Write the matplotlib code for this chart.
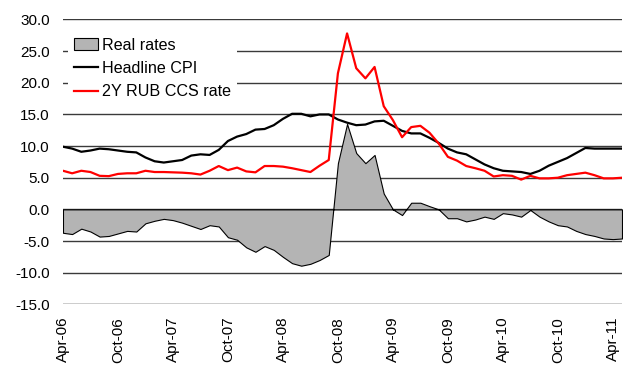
import matplotlib
matplotlib.use("Agg")
import matplotlib.pyplot as plt
from matplotlib.patches import Patch
from matplotlib.lines import Line2D

plt.rcParams["font.family"] = ["Liberation Sans", "DejaVu Sans"]
plt.rcParams["axes.unicode_minus"] = False

# Monthly observations, Apr-06 .. May-11
tick_labels = ["Apr-06", "Oct-06", "Apr-07", "Oct-07", "Apr-08", "Oct-08",
               "Apr-09", "Oct-09", "Apr-10", "Oct-10", "Apr-11"]

headline_cpi = [9.9, 9.6, 9.1, 9.3, 9.6, 9.5, 9.3, 9.1, 9.0, 8.2,
                7.6, 7.4, 7.6, 7.8, 8.5, 8.7, 8.6, 9.4, 10.8, 11.5,
                11.9, 12.6, 12.7, 13.3, 14.3, 15.1, 15.1, 14.7, 15.0, 15.0,
                14.2, 13.7, 13.3, 13.4, 13.9, 14.0, 13.2, 12.4, 12.0, 12.0,
                11.3, 10.5, 9.6, 9.0, 8.7, 7.9, 7.1, 6.5, 6.1, 6.0,
                5.9, 5.6, 6.1, 6.9, 7.5, 8.1, 8.9, 9.7, 9.6, 9.6,
                9.6, 9.6]

ccs_rate = [6.1, 5.7, 6.1, 5.9, 5.3, 5.25, 5.6, 5.7, 5.7, 6.1,
            5.9, 5.9, 5.85, 5.8, 5.7, 5.5, 6.1, 6.85, 6.2, 6.6,
            6.0, 5.85, 6.85, 6.85, 6.75, 6.5, 6.2, 5.9, 6.9, 7.8,
            21.5, 27.8, 22.3, 20.7, 22.5, 16.3, 14.1, 11.4, 13.0, 13.2,
            12.1, 10.4, 8.3, 7.7, 6.85, 6.5, 6.1, 5.2, 5.4, 5.3,
            4.7, 5.3, 4.9, 4.9, 5.0, 5.4, 5.6, 5.8, 5.4, 4.9,
            4.9, 5.0]

real_rates = [-3.7, -3.9, -3.05, -3.5, -4.3, -4.2, -3.8, -3.4, -3.5, -2.2,
              -1.8, -1.5, -1.7, -2.1, -2.6, -3.1, -2.5, -2.7, -4.4, -4.8,
              -6.0, -6.7, -5.8, -6.4, -7.5, -8.5, -8.9, -8.6, -8.0, -7.2,
              7.3, 13.5, 8.9, 7.3, 8.6, 2.5, 0.0, -0.9, 1.05, 1.05,
              0.5, 0.0, -1.4, -1.4, -1.9, -1.6, -1.15, -1.5, -0.6, -0.8,
              -1.15, -0.1, -1.15, -1.9, -2.5, -2.7, -3.4, -3.9, -4.2, -4.6,
              -4.7, -4.6]

x = list(range(len(headline_cpi)))
area_color = "#b4b4b4"

fig = plt.figure(figsize=(6.23, 3.67), dpi=100)
ax = fig.add_axes([0.1011, 0.1708, 0.8973, 0.7761])

yticks = list(range(-15, 31, 5))
for y in yticks:
    ax.axhline(y, color="black" if y == -15 else "#3a3a3a", lw=1.0, zorder=1)

ax.fill_between(x, 0, real_rates, facecolor=area_color, edgecolor="black",
                linewidth=0.8, zorder=2)
ax.plot(x, headline_cpi, color="black", lw=1.6, zorder=3)
ax.plot(x, ccs_rate, color="#ff0000", lw=1.6, zorder=4)

ax.set_xlim(0, len(x) - 1)
ax.set_ylim(-15, 30)
ax.set_yticks(yticks)
ax.set_yticklabels([f"{v:.1f}" for v in yticks])
ax.set_xticks(list(range(0, len(x), 6)))
ax.set_xticklabels(tick_labels, rotation=90, ha="center", va="top")
ax.tick_params(axis="y", length=0, pad=9.5, labelsize=11)
ax.tick_params(axis="x", length=0, pad=9, labelsize=11)
for s in ax.spines.values():
    s.set_visible(False)

handles = [Patch(facecolor=area_color, edgecolor="black", linewidth=0.8),
           Line2D([], [], color="black", lw=1.6),
           Line2D([], [], color="#ff0000", lw=1.6)]
leg = ax.legend(handles, ["Real rates", "Headline CPI", "2Y RUB CCS rate"],
                loc="upper left", bbox_to_anchor=(0.0, 0.976), fontsize=11.6,
                frameon=True, fancybox=False, framealpha=1, facecolor="white",
                edgecolor="none", handlelength=1.45, handleheight=0.7,
                handletextpad=0.25, labelspacing=0.52, borderpad=0.4,
                borderaxespad=0.3)
leg.set_zorder(5)

fig.savefig("out.png", dpi=100)
